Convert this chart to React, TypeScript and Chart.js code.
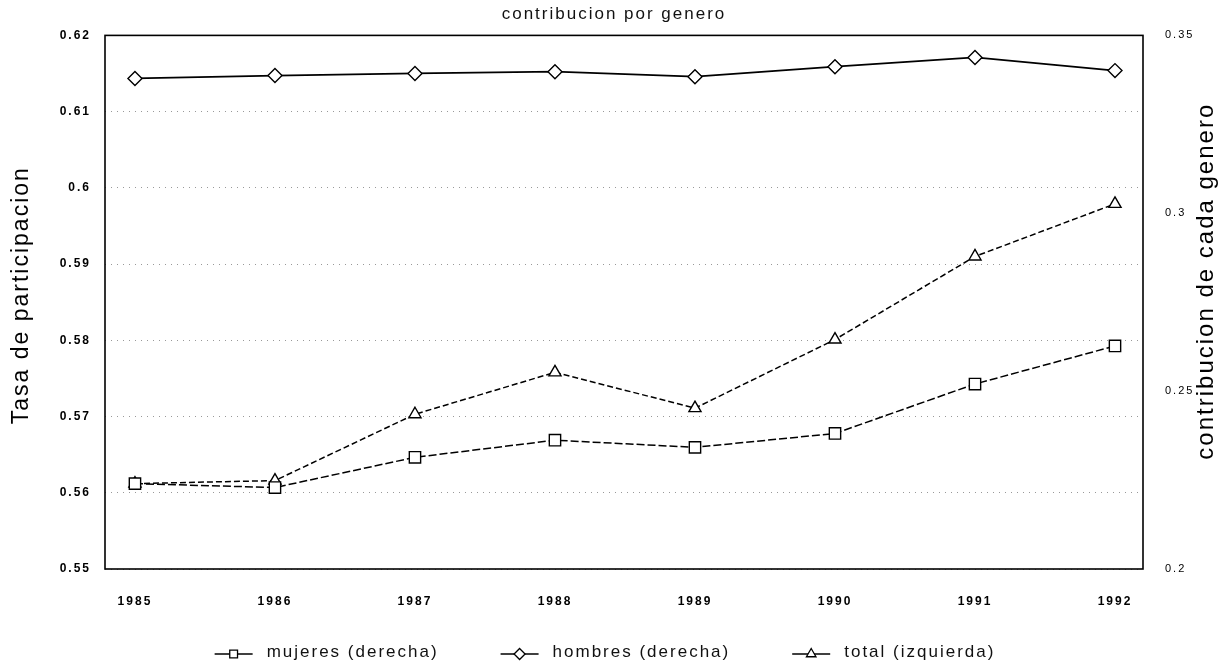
import React, { useEffect, useRef } from "react";
import { Chart, registerables } from "chart.js";

Chart.register(...registerables);

const years = [1985, 1986, 1987, 1988, 1989, 1990, 1991, 1992];
const mujeres = [0.224, 0.2229, 0.2314, 0.2362, 0.2342, 0.2381, 0.252, 0.2627];
const hombres = [0.3379, 0.3387, 0.3393, 0.3398, 0.3384, 0.3412, 0.3438, 0.3401];
const total = [0.5612, 0.5616, 0.5703, 0.5758, 0.5711, 0.5801, 0.591, 0.5979];
const leftTicks = [0.55, 0.56, 0.57, 0.58, 0.59, 0.6, 0.61, 0.62];
const rightTicks = [0.2, 0.25, 0.3, 0.35];
const seriesLabels = ["mujeres (derecha)", "hombres (derecha)", "total (izquierda)"];
const chartTitle = "contribucion por genero";
const leftTitle = "Tasa de participacion";
const rightTitle = "contribucion de cada genero";

const FONT = "'Liberation Sans', Arial, sans-serif";
const SPACING = "2px";

const pointStyles = ["rect", "rectRot", "triangle"];
const pointRadii = [8, 7, 7];
const dashes: number[][] = [[8, 3], [], [6, 3]];

function drawMarker(ctx: CanvasRenderingContext2D, style: string, x: number, y: number, r: number) {
  ctx.beginPath();
  if (style === "rect") {
    const s = r * Math.SQRT1_2;
    ctx.rect(x - s, y - s, 2 * s, 2 * s);
  } else if (style === "rectRot") {
    ctx.moveTo(x, y - r);
    ctx.lineTo(x + r, y);
    ctx.lineTo(x, y + r);
    ctx.lineTo(x - r, y);
    ctx.closePath();
  } else {
    const h = r * 0.866;
    ctx.moveTo(x, y - r);
    ctx.lineTo(x + h, y + r / 2);
    ctx.lineTo(x - h, y + r / 2);
    ctx.closePath();
  }
  ctx.fill();
  ctx.stroke();
}

const decorPlugin = {
  id: "decorPlugin",
  beforeDraw(chart: any) {
    (chart.ctx as any).letterSpacing = SPACING;
  },
  afterDatasetsDraw(chart: any) {
    const { ctx, chartArea } = chart;
    ctx.save();
    ctx.strokeStyle = "#000";
    ctx.lineWidth = 1.6;
    ctx.setLineDash([]);
    ctx.strokeRect(chartArea.left, chartArea.top, chartArea.right - chartArea.left, chartArea.bottom - chartArea.top);
    ctx.restore();
  },
  afterDraw(chart: any) {
    const { ctx, chartArea, width } = chart;
    const midY = (chartArea.top + chartArea.bottom) / 2;
    ctx.save();
    (ctx as any).letterSpacing = SPACING;
    ctx.fillStyle = "#000";
    ctx.textAlign = "center";
    ctx.textBaseline = "middle";
    // left axis title
    ctx.font = `23px ${FONT}`;
    ctx.save();
    ctx.translate(22, midY - 7);
    ctx.rotate(-Math.PI / 2);
    ctx.fillText(leftTitle, 0, 0);
    ctx.restore();
    // right axis title (reads bottom to top)
    ctx.font = `24px ${FONT}`;
    ctx.save();
    ctx.translate(width - 22, midY - 21);
    ctx.rotate(-Math.PI / 2);
    ctx.fillText(rightTitle, 0, 0);
    ctx.restore();

    // legend
    ctx.font = `17px ${FONT}`;
    ctx.textAlign = "left";
    const sampleW = 38;
    const gapText = 14;
    const gapItem = 62;
    const widths = seriesLabels.map((t) => ctx.measureText(t).width);
    const totalW = widths.reduce((a, b) => a + b, 0) + seriesLabels.length * (sampleW + gapText) + (seriesLabels.length - 1) * gapItem;
    let x = width / 2 - 9 - totalW / 2;
    const ly = chart.height - 15;
    seriesLabels.forEach((t, i) => {
      ctx.strokeStyle = "#000";
      ctx.lineWidth = 1.6;
      ctx.setLineDash([]);
      ctx.beginPath();
      ctx.moveTo(x, ly + 2);
      ctx.lineTo(x + sampleW, ly + 2);
      ctx.stroke();
      ctx.fillStyle = "#fff";
      ctx.lineWidth = 1.3;
      drawMarker(ctx, pointStyles[i], x + sampleW / 2, ly + 2, 5.5);
      ctx.fillStyle = "#111";
      ctx.fillText(t, x + sampleW + gapText, ly);
      x += sampleW + gapText + widths[i] + gapItem;
    });
    ctx.restore();
  },
};

export default function App() {
  const ref = useRef<HTMLCanvasElement>(null);
  useEffect(() => {
    document.body.style.margin = "0";
    const series = [mujeres, hombres, total];
    const axes = ["y1", "y1", "y"];
    const chart = new Chart(ref.current!, {
      type: "line",
      data: {
        datasets: series.map((vals, i) => ({
          label: seriesLabels[i],
          data: years.map((x, j) => ({ x, y: vals[j] })),
          yAxisID: axes[i],
          borderColor: "#000",
          borderWidth: i === 1 ? 1.8 : 1.5,
          borderDash: dashes[i],
          pointStyle: pointStyles[i],
          pointRadius: pointRadii[i],
          pointBorderWidth: 1.4,
          pointBackgroundColor: "#fff",
          pointBorderColor: "#000",
        })),
      },
      options: {
        animation: false,
        responsive: false,
        layout: { padding: { top: 0, bottom: 58, left: 0, right: 0 } },
        plugins: {
          title: {
            display: true,
            text: chartTitle,
            color: "#111",
            font: { family: FONT, size: 17, weight: "normal" },
            padding: { top: 4, bottom: 11 },
          },
          legend: { display: false },
          tooltip: { enabled: false },
        },
        scales: {
          x: {
            type: "linear",
            min: 1984.786,
            max: 1992.2,
            afterBuildTicks: (s: any) => {
              s.ticks = years.map((v) => ({ value: v }));
            },
            afterFit: (s: any) => {
              s.height = 40;
            },
            ticks: {
              color: "#000",
              font: { family: FONT, size: 12, weight: "bold" },
              callback: (v: any) => String(v),
              padding: 17,
              maxRotation: 0,
            },
            grid: { display: false },
            border: { display: false },
          },
          y: {
            type: "linear",
            position: "left",
            min: 0.55,
            max: 0.62,
            afterBuildTicks: (s: any) => {
              s.ticks = leftTicks.map((v) => ({ value: v }));
            },
            afterFit: (s: any) => {
              s.width = 105;
            },
            ticks: {
              color: "#000",
              font: { family: FONT, size: 12, weight: "bold" },
              callback: (v: any) => String(Math.round(v * 100) / 100),
              padding: 14,
            },
            grid: {
              drawTicks: false,
              color: "#999",
              lineWidth: 1,
            },
            border: { display: false, dash: [1, 5] },
          },
          y1: {
            type: "linear",
            position: "right",
            min: 0.2,
            max: 0.35,
            afterBuildTicks: (s: any) => {
              s.ticks = rightTicks.map((v) => ({ value: v }));
            },
            afterFit: (s: any) => {
              s.width = 85;
            },
            ticks: {
              color: "#000",
              font: { family: FONT, size: 11 },
              callback: (v: any) => String(Math.round(v * 100) / 100),
              padding: 14,
            },
            grid: { display: false },
            border: { display: false },
          },
        },
      } as any,
      plugins: [decorPlugin],
    });
    return () => chart.destroy();
  }, []);
  return (
    <div style={{ width: 1228, height: 667 }}>
      <canvas ref={ref} width={1228} height={667} style={{ display: "block" }} />
    </div>
  );
}
